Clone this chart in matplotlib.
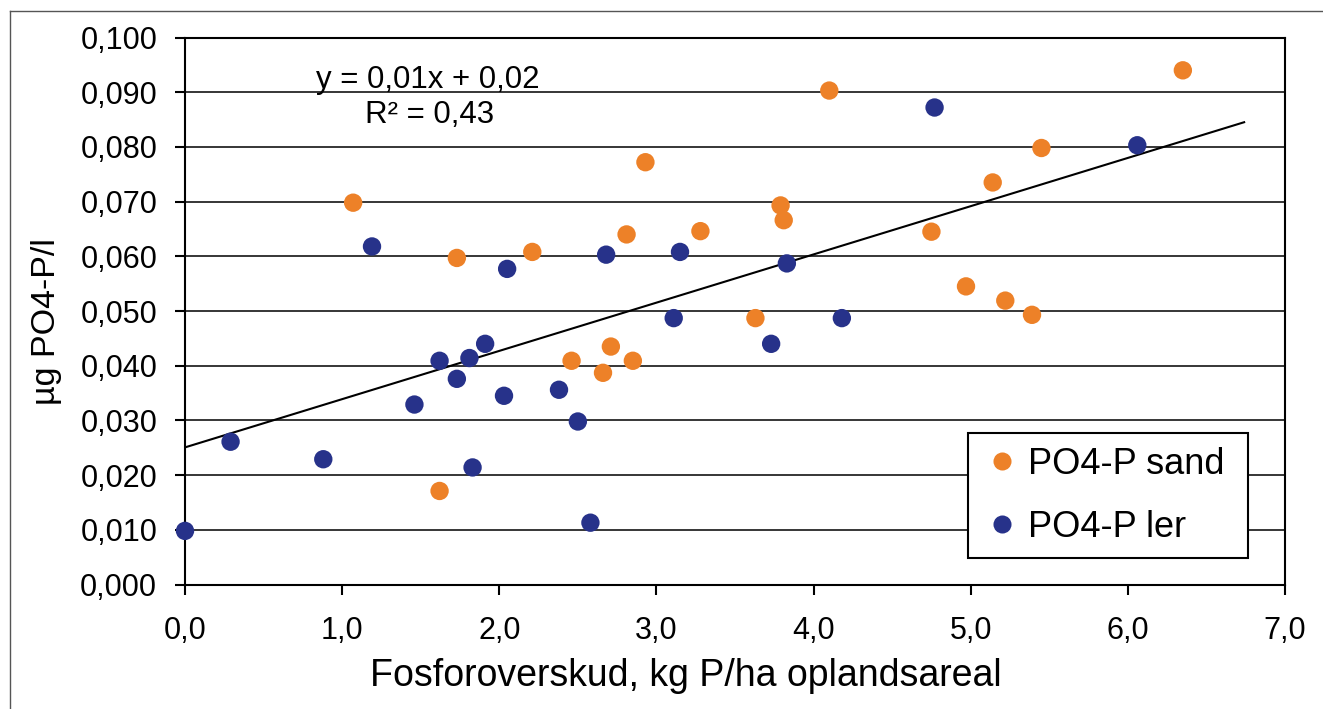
import matplotlib
matplotlib.use("Agg")
import matplotlib.pyplot as plt
from matplotlib.ticker import FuncFormatter, MultipleLocator
from matplotlib.lines import Line2D
import numpy as np

plt.rcParams["font.family"] = ["Liberation Sans", "DejaVu Sans"]

# ---- data ----
sand_x = [1.07, 1.73, 2.21, 1.62, 2.46, 2.93, 2.81, 3.28, 3.79, 3.81, 3.63,
          2.71, 2.66, 2.85, 6.35, 5.45, 5.14, 4.75, 4.97, 5.22, 5.39, 4.10]
sand_y = [0.0698, 0.0597, 0.0608, 0.0171, 0.0409, 0.0772, 0.0640, 0.0646, 0.0693, 0.0666, 0.0487,
          0.0435, 0.0387, 0.0409, 0.0940, 0.0798, 0.0735, 0.0645, 0.0545, 0.0519, 0.0493, 0.0903]

ler_x = [1.19, 2.05, 1.91, 1.62, 1.81, 1.73, 1.46, 2.03, 2.38, 2.50, 0.29, 0.88,
         1.83, 0.00, 2.68, 3.15, 3.83, 3.11, 4.18, 3.73, 2.58, 4.77, 6.06]
ler_y = [0.0618, 0.0577, 0.0440, 0.0409, 0.0414, 0.0376, 0.0329, 0.0345, 0.0356, 0.0298, 0.0261, 0.0229,
         0.0214, 0.0098, 0.0603, 0.0608, 0.0587, 0.0487, 0.0487, 0.0440, 0.0113, 0.0872, 0.0803]

trend_range = [0.0, 6.74]
eq_text = "y = 0,01x + 0,02"
r2_text = "R² = 0,43"

orange = "#ED8128"
blue = "#27328A"

fig = plt.figure(figsize=(13.23, 7.09), dpi=100)
ax = fig.add_axes([185 / 1323, 1 - 584.5 / 709, 1100 / 1323, 547 / 709])

# lineær trend af alle punkter
all_x = np.array(sand_x + ler_x)
all_y = np.array(sand_y + ler_y)
k, m = np.polyfit(all_x, all_y, 1)
tx = np.array(trend_range)
ax.plot(tx, k * tx + m, color="black", lw=1.5, zorder=2)

ax.scatter(sand_x, sand_y, s=175, color=orange, edgecolors="none", zorder=3, clip_on=False)
ax.scatter(ler_x, ler_y, s=175, color=blue, edgecolors="none", zorder=3, clip_on=False)

ax.set_xlim(0, 7)
ax.set_ylim(0, 0.1)
ax.xaxis.set_major_locator(MultipleLocator(1))
ax.yaxis.set_major_locator(MultipleLocator(0.01))
ax.xaxis.set_major_formatter(FuncFormatter(lambda v, p: f"{v:.1f}".replace(".", ",")))
ax.yaxis.set_major_formatter(FuncFormatter(lambda v, p: f"{v:.3f}".replace(".", ",")))
ax.yaxis.grid(True, color="black", lw=1.1)
ax.set_axisbelow(True)
ax.tick_params(axis="both", direction="out", length=7, width=1.5, labelsize=22, color="black")
ax.tick_params(axis="y", pad=13)
ax.tick_params(axis="x", pad=16)
for s in ax.spines.values():
    s.set_linewidth(1.5)
    s.set_color("black")

ax.set_xlabel("Fosforoverskud, kg P/ha oplandsareal", fontsize=27)
ax.set_ylabel("µg PO4-P/l", fontsize=24.5)
ax.xaxis.set_label_coords(0.455, -0.134)
ax.yaxis.set_label_coords(-0.112, 0.48)

ax.text(0.221, 0.922, eq_text, transform=ax.transAxes, fontsize=22.5, ha="center", va="center")
ax.text(0.2227, 0.858, r2_text, transform=ax.transAxes, fontsize=22.5, ha="center", va="center")

handles = [
    Line2D([], [], ls="none", marker="o", markersize=13, color=orange, markeredgewidth=0),
    Line2D([], [], ls="none", marker="o", markersize=13, color=blue, markeredgewidth=0),
]
leg = ax.legend(handles, ["PO4-P sand ", "PO4-P ler "], loc="lower right",
                bbox_to_anchor=(0.966, 0.048), borderaxespad=0, fontsize=26,
                frameon=True, fancybox=False, framealpha=1, edgecolor="black",
                handletextpad=0.12, handlelength=1.16, borderpad=0.38, labelspacing=0.77)
leg.get_frame().set_linewidth(1.5)

# ramme om figuren (kun venstre og top synlig)
fig.add_artist(Line2D([10 / 1323, 10 / 1323], [0, 1 - 11 / 709], color="#555555", lw=1))
fig.add_artist(Line2D([10 / 1323, 1], [1 - 11 / 709, 1 - 11 / 709], color="#555555", lw=1))

fig.savefig("out.png", dpi=100)
